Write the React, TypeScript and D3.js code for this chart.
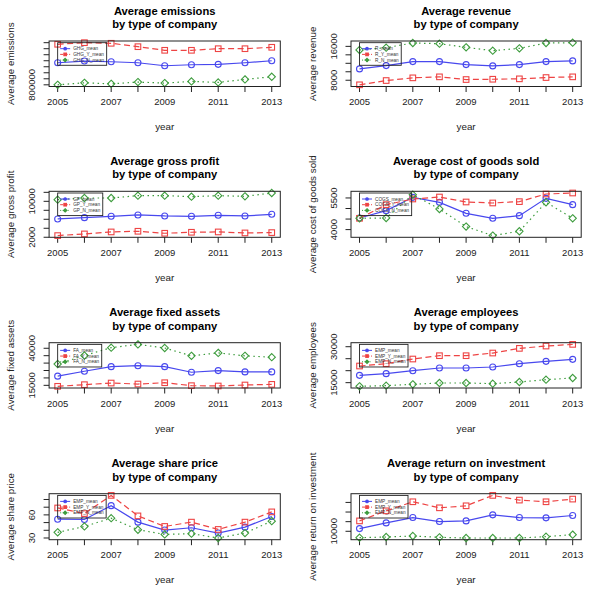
import React from "react";
import * as d3 from "d3";

// ---- data ----
const years = [2005, 2006, 2007, 2008, 2009, 2010, 2011, 2012, 2013];
const xTickLabels = ["2005", "", "2007", "", "2009", "", "2011", "", "2013"];

const ghgMean = [1533000, 1590000, 1567000, 1533000, 1433000, 1467000, 1480000, 1533000, 1600000];
const ghgYMean = [2147000, 2200000, 2180000, 2067000, 1947000, 1947000, 2000000, 2000000, 2047000];
const ghgNMean = [800000, 867000, 833000, 890000, 857000, 913000, 880000, 980000, 1067000];
const ghgTicks = [800000, 1000000, 1200000, 1400000, 1600000, 1800000, 2000000, 2200000];
const ghgTickLabels = ["800000", "", "", "", "", "", "", ""];

const rMean = [10682, 11459, 12400, 12400, 11694, 11388, 11694, 12400, 12565];
const rYMean = [6918, 7929, 8565, 8800, 8165, 8235, 8329, 8635, 8800];
const rNMean = [15153, 15694, 16800, 16635, 15765, 14988, 15529, 16800, 16871];
const rTicks = [8000, 10000, 12000, 14000, 16000];
const rTickLabels = ["8000", "", "", "", "16000"];

const gpMean = [6074, 6370, 6667, 6963, 6741, 6667, 6889, 6741, 7111];
const gpYMean = [2370, 2741, 3185, 3333, 2889, 3111, 3185, 2963, 3037];
const gpNMean = [10370, 10741, 10741, 11259, 11259, 11037, 11259, 11111, 11852];
const gpTicks = [2000, 4000, 6000, 8000, 10000, 12000];
const gpTickLabels = ["2000", "", "", "", "10000", ""];

const cogsMean = [4552, 4899, 5530, 5293, 4773, 4536, 4662, 5482, 5183];
const cogsYMean = [4536, 5183, 5451, 5545, 5309, 5262, 5325, 5687, 5735];
const cogsNMean = [4536, 4552, 5656, 4978, 4142, 3716, 3921, 5293, 4536];
const cogsTicks = [4000, 4500, 5000, 5500];
const cogsTickLabels = ["4000", "", "", "5500"];

const faMean = [21188, 24503, 27597, 28260, 27597, 23840, 24945, 24061, 24061];
const faYMean = [14337, 15442, 16547, 15884, 16768, 14779, 14558, 15221, 15663];
const faNMean = [29365, 35111, 40415, 42625, 40194, 34890, 36879, 34890, 34006];
const faTicks = [15000, 20000, 25000, 30000, 35000, 40000];
const faTickLabels = ["15000", "", "", "", "", "40000"];

const empMean = [18056, 18750, 20000, 21111, 21111, 21528, 22917, 23889, 24722];
const empYMean = [21944, 22917, 24861, 26250, 26250, 27361, 29306, 30278, 30972];
const empNMean = [13472, 13750, 14306, 14861, 14861, 14583, 15278, 16250, 16944];
const empTicks = [15000, 20000, 25000, 30000];
const empTickLabels = ["15000", "", "", "30000"];

const spMean = [54.4, 54, 72, 50.6, 40.3, 43.3, 36.4, 44.1, 57.9];
const spYMean = [69, 61.7, 85.3, 58.7, 45, 50.6, 41.1, 50.6, 63.9];
const spNMean = [37.3, 45, 55.7, 40.7, 34.7, 35.6, 30, 36.4, 51.9];
const spTicks = [30, 40, 50, 60, 70, 80];
const spTickLabels = ["30", "", "", "60", "", ""];

const roiMean = [11394, 14355, 17142, 15052, 15400, 18536, 17142, 16968, 18187];
const roiYMean = [15400, 20626, 25330, 22194, 23239, 28639, 26201, 25330, 26723];
const roiNMean = [6690, 7039, 7561, 6864, 6516, 6516, 6516, 7213, 8258];
const roiTicks = [10000, 15000, 20000, 25000];
const roiTickLabels = ["10000", "", "", ""];

const panels = [
  { title: "Average emissions", ylab: "Average emissions", legend: ["GHG_mean", "GHG_Y_mean", "GHG_N_mean"], series: [ghgMean, ghgYMean, ghgNMean], ticks: ghgTicks, tickLabels: ghgTickLabels },
  { title: "Average revenue", ylab: "Average revenue", legend: ["R_mean", "R_Y_mean", "R_N_mean"], series: [rMean, rYMean, rNMean], ticks: rTicks, tickLabels: rTickLabels },
  { title: "Average gross profit", ylab: "Average gross profit", legend: ["GP_mean", "GP_Y_mean", "GP_N_mean"], series: [gpMean, gpYMean, gpNMean], ticks: gpTicks, tickLabels: gpTickLabels },
  { title: "Average cost of goods sold", ylab: "Average cost of goods sold", legend: ["COGS_mean", "COGS_Y_mean", "COGS_N_mean"], series: [cogsMean, cogsYMean, cogsNMean], ticks: cogsTicks, tickLabels: cogsTickLabels },
  { title: "Average fixed assets", ylab: "Average fixed assets", legend: ["FA_mean", "FA_Y_mean", "FA_N_mean"], series: [faMean, faYMean, faNMean], ticks: faTicks, tickLabels: faTickLabels },
  { title: "Average employees", ylab: "Average employees", legend: ["EMP_mean", "EMP_Y_mean", "EMP_N_mean"], series: [empMean, empYMean, empNMean], ticks: empTicks, tickLabels: empTickLabels },
  { title: "Average share price", ylab: "Average share price", legend: ["EMP_mean", "EMP_Y_mean", "EMP_N_mean"], series: [spMean, spYMean, spNMean], ticks: spTicks, tickLabels: spTickLabels },
  { title: "Average return on investment", ylab: "Average return on investment", legend: ["EMP_mean", "EMP_Y_mean", "EMP_N_mean"], series: [roiMean, roiYMean, roiNMean], ticks: roiTicks, tickLabels: roiTickLabels },
];

// ---- layout / style ----
const W = 596;
const H = 591;
const colX = [[49.1, 280.3], [351, 581.2]];
const rowY = [[41, 86.5], [191.3, 237.3], [342.7, 388], [493.7, 539.7]];
const colors = ["#4848ee", "#ee4444", "#3d9c3d"];
const dashes = [null, "6,3.5", "1.5,3.5"];
const font = "'Liberation Sans', Arial, Helvetica, sans-serif";
const axisCol = "#222";

let ctx: CanvasRenderingContext2D | null = null;
function textW(s: string, size: number) {
  if (!ctx) ctx = document.createElement("canvas").getContext("2d");
  if (!ctx) return s.length * size * 0.6;
  ctx.font = `${size}px 'Liberation Sans'`;
  return ctx.measureText(s).width;
}

function Marker({ kind, cx, cy, color, filled, s }: any) {
  const fill = filled ? color : "none";
  if (kind === 0) return <circle cx={cx} cy={cy} r={s} fill={fill} stroke={color} strokeWidth={1.1} />;
  if (kind === 1) return <rect x={cx - s} y={cy - s} width={2 * s} height={2 * s} fill={fill} stroke={color} strokeWidth={1.1} />;
  const d = s * 1.3;
  return <path d={`M${cx},${cy - d}L${cx + d},${cy}L${cx},${cy + d}L${cx - d},${cy}Z`} fill={fill} stroke={color} strokeWidth={1.1} />;
}

function Panel({ p, i }: any) {
  const [x0, x1] = colX[i % 2];
  const [top, bottom] = rowY[Math.floor(i / 2)];
  const x = d3.scaleLinear().domain([2005 - 0.32, 2013 + 0.32]).range([x0, x1]);
  const all = p.series.flat();
  const mn = d3.min(all) as number;
  const mx = d3.max(all) as number;
  const ext = (mx - mn) * 0.04;
  const y = d3.scaleLinear().domain([mn - ext, mx + ext]).range([bottom, top]);
  const line = d3.line<number>().x((_, k) => x(years[k])).y((v) => y(v));
  const cx = (x0 + x1) / 2;
  const cy = (top + bottom) / 2;

  // legend at (2005, max)
  const lx = x(2005);
  const ly = y(mx);
  const lfs = 4.7;
  const lw = 15.5 + d3.max(p.legend.map((s: string) => textW(s, lfs))) + 2.5;

  return (
    <g>
      <text x={cx} y={top - 26.5} textAnchor="middle" fontFamily={font} fontWeight="bold" fontSize={11.2} fill="#000">{p.title}</text>
      <text x={cx} y={top - 13} textAnchor="middle" fontFamily={font} fontWeight="bold" fontSize={11.2} fill="#000">by type of company</text>

      {/* x axis */}
      {years.map((yr, k) => (
        <g key={"xt" + k}>
          <line x1={x(yr)} x2={x(yr)} y1={bottom} y2={bottom + 5.5} stroke={axisCol} strokeWidth={1} />
          {xTickLabels[k] && (
            <text x={x(yr)} y={bottom + 18.5} textAnchor="middle" fontFamily={font} fontSize={9.5} fill="#222">{xTickLabels[k]}</text>
          )}
        </g>
      ))}
      <text x={cx} y={bottom + 43.5} textAnchor="middle" fontFamily={font} fontSize={9.8} fill="#222">year</text>

      {/* y axis */}
      {p.ticks.map((t: number, k: number) => (
        <g key={"yt" + k}>
          <line x1={x0 - 5.5} x2={x0} y1={y(t)} y2={y(t)} stroke={axisCol} strokeWidth={1} />
          {p.tickLabels[k] && (
            <text transform={`translate(${x0 - 17.3},${y(t)}) rotate(-90)`} dy="0.35em" textAnchor="middle" fontFamily={font} fontSize={9.5} fill="#222">{p.tickLabels[k]}</text>
          )}
        </g>
      ))}
      <text transform={`translate(${x0 - 38.5},${cy}) rotate(-90)`} dy="0.35em" textAnchor="middle" fontFamily={font} fontSize={9.8} fill="#222">{p.ylab}</text>

      {/* series */}
      {p.series.map((s: number[], j: number) => (
        <g key={"s" + j}>
          <path d={line(s) || ""} fill="none" stroke={colors[j]} strokeWidth={1.2} strokeDasharray={dashes[j] || undefined} />
          {s.map((v, k) => (
            <Marker key={k} kind={j} cx={x(years[k])} cy={y(v)} color={colors[j]} filled={false} s={j === 0 ? 3 : 2.8} />
          ))}
        </g>
      ))}

      {/* legend */}
      <rect x={lx} y={ly} width={lw} height={22.6} fill="none" stroke="#222" strokeWidth={0.9} />
      {p.legend.map((lab: string, j: number) => {
        const ry = ly + 6 + j * 5.7;
        return (
          <g key={"l" + j}>
            <line x1={lx + 2.5} x2={lx + 12.5} y1={ry} y2={ry} stroke={colors[j]} strokeWidth={1} strokeDasharray={j === 2 ? "1,1.5" : j === 1 ? "3,1.5" : undefined} />
            <Marker kind={j} cx={lx + 7.5} cy={ry} color={colors[j]} filled={true} s={1.3} />
            <text x={lx + 15.5} y={ry} dy="0.35em" fontFamily={font} fontSize={lfs} fill="#333">{lab}</text>
          </g>
        );
      })}

      {/* frame */}
      <rect x={x0} y={top} width={x1 - x0} height={bottom - top} fill="none" stroke={axisCol} strokeWidth={1} />
    </g>
  );
}

export default function App() {
  return (
    <svg width={W} height={H} style={{ position: "absolute", left: 0, top: 0, background: "#fff" }}>
      {panels.map((p, i) => (
        <Panel key={i} p={p} i={i} />
      ))}
    </svg>
  );
}
